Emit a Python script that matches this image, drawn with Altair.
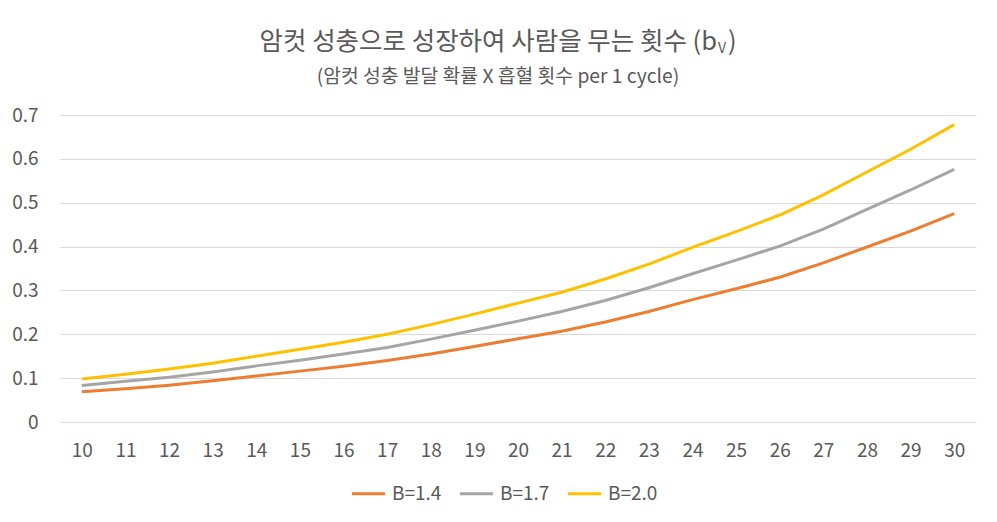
import altair as alt
import pandas as pd

# ---- data ----
temps = list(range(10, 31))
series = ["B=1.4", "B=1.7", "B=2.0"]
colors = ["#ED7D31", "#A5A5A5", "#FFC000"]

b14 = [0.069, 0.076, 0.084, 0.094, 0.105, 0.116, 0.127, 0.140, 0.155, 0.172, 0.190,
       0.207, 0.228, 0.252, 0.279, 0.304, 0.330, 0.363, 0.399, 0.435, 0.475]
b17 = [0.083, 0.093, 0.102, 0.114, 0.128, 0.141, 0.155, 0.170, 0.189, 0.209, 0.230,
       0.252, 0.277, 0.306, 0.338, 0.369, 0.401, 0.440, 0.485, 0.529, 0.576]
b20 = [0.098, 0.109, 0.121, 0.134, 0.150, 0.166, 0.182, 0.200, 0.222, 0.246, 0.271,
       0.296, 0.326, 0.360, 0.398, 0.434, 0.472, 0.518, 0.570, 0.622, 0.678]

y_ticks = [0, 0.1, 0.2, 0.3, 0.4, 0.5, 0.6, 0.7]

title_main = "암컷 성충으로 성장하여 사람을 무는 횟수 (b"
title_sub_letter = "V"
title_close = ")"
subtitle = "(암컷 성충 발달 확률 X 흡혈 횟수 per 1 cycle)"

rows = []
for name, vals in zip(series, [b14, b17, b20]):
    for t, v in zip(temps, vals):
        rows.append({"T": t, "bV": v, "B": name})
df = pd.DataFrame(rows)

FONT = "Noto Sans CJK KR"
TXT = "#595959"
W, H = 916, 307

lines = alt.Chart(df).mark_line(strokeWidth=3).encode(
    x=alt.X("T:O", scale=alt.Scale(type="point", padding=0.5),
            axis=alt.Axis(title=None, labelAngle=0, ticks=False, domain=False, grid=False,
                          labelFontSize=19, labelColor=TXT, labelPadding=19, labelFont=FONT)),
    y=alt.Y("bV:Q", scale=alt.Scale(domain=[0, 0.7], nice=False),
            axis=alt.Axis(title=None, values=y_ticks, format=".1~f", ticks=False, domain=False,
                          grid=True, gridColor="#D9D9D9", gridWidth=1,
                          labelFontSize=19, labelColor=TXT, labelPadding=22, labelFont=FONT)),
    color=alt.Color("B:N", scale=alt.Scale(domain=series, range=colors),
                    legend=alt.Legend(title=None, orient="none", legendX=290, legendY=360,
                                      direction="horizontal", symbolType="stroke",
                                      symbolStrokeWidth=3, symbolSize=1100,
                                      labelFontSize=19, labelColor=TXT, labelFont=FONT,
                                      labelOffset=5, columnPadding=11, labelLimit=300)),
)

one = pd.DataFrame({"a": [0]})
t1 = alt.Chart(one).mark_text(text=title_main, align="right", baseline="middle",
                              fontSize=25.5, font=FONT, color=TXT).encode(
    x=alt.value(657), y=alt.value(-73))
t2 = alt.Chart(one).mark_text(text=title_sub_letter, align="left", baseline="middle",
                              fontSize=14, font=FONT, color=TXT).encode(
    x=alt.value(658), y=alt.value(-66))
t3 = alt.Chart(one).mark_text(text=title_close, align="left", baseline="middle",
                              fontSize=25.5, font=FONT, color=TXT).encode(
    x=alt.value(668), y=alt.value(-73))
t4 = alt.Chart(one).mark_text(text=subtitle, align="center", baseline="middle",
                              fontSize=19.3, font=FONT, color=TXT).encode(
    x=alt.value(438), y=alt.value(-38))

chart = alt.layer(lines, t1, t2, t3, t4).properties(
    width=W, height=H,
    autosize=alt.AutoSizeParams(type="none"),
    padding={"left": 52, "top": 107, "right": 10, "bottom": 86},
    background="white",
).configure_view(stroke=None)

chart.save("out.html", embed_options={"renderer": "svg", "actions": False})
